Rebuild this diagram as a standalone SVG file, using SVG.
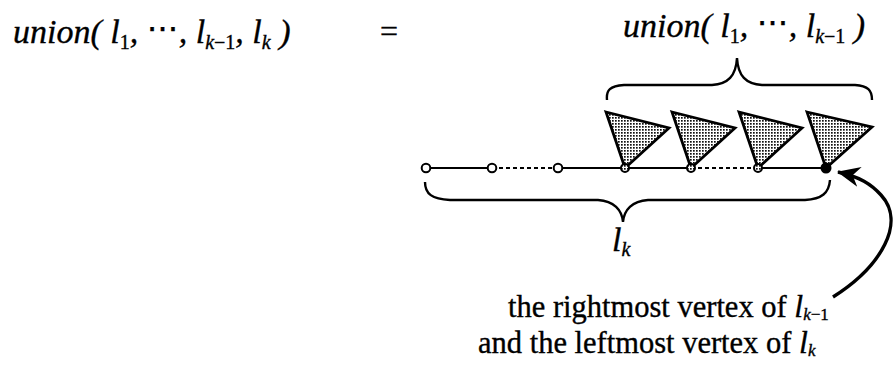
<svg xmlns="http://www.w3.org/2000/svg" width="893" height="369" viewBox="0 0 893 369">
<defs>
<pattern id="dots" width="3" height="3" patternUnits="userSpaceOnUse">
<rect width="3" height="3" fill="#fff"/>
<rect x="0" y="0" width="1.7" height="1.7" fill="#111"/>
</pattern>
<marker id="arr" viewBox="0 0 24 24" refX="22" refY="12" markerWidth="24" markerHeight="24" markerUnits="userSpaceOnUse" orient="auto">
<path d="M0,2 L23,12 L0,22 L7,12 Z" fill="#000"/>
</marker>
</defs>
<style>
text{stroke:#000;stroke-width:0.35}
.m{font-family:"Liberation Serif","Times New Roman",serif;font-style:italic;font-size:34px;fill:#000}
.r{font-family:"Liberation Serif","Times New Roman",serif;font-size:30.5px;fill:#000}
.up{font-style:normal}
.sub{font-size:20px}
.dots{font-family:"DejaVu Sans",sans-serif;font-style:normal;font-size:32px}
.tri{fill:url(#dots);stroke:#000;stroke-width:2.8;stroke-linejoin:miter}
.edge{stroke:#000;stroke-width:2;fill:none}
.dash{stroke-dasharray:4,3}
.v{fill:#fff;stroke:#000;stroke-width:2}
.brace{fill:none;stroke:#000;stroke-width:2.4}
</style>
<g id="title-left">
<text class="m" x="13" y="43">union( l<tspan class="up sub" dy="6">1</tspan><tspan dy="-6">, </tspan><tspan class="dots" dy="-4">⋯</tspan><tspan dy="4">, l</tspan><tspan class="sub" dy="6">k</tspan><tspan class="up sub">−1</tspan><tspan dy="-6">, l</tspan><tspan class="sub" dy="6">k</tspan><tspan dy="-6"> )</tspan></text>
</g>
<g id="equals">
<text class="r" x="380" y="42" style="font-size:32px">=</text>
</g>
<g id="title-right">
<text class="m" x="623" y="37">union( l<tspan class="up sub" dy="6">1</tspan><tspan dy="-6">, </tspan><tspan class="dots" dy="-4">⋯</tspan><tspan dy="4">, l</tspan><tspan class="sub" dy="6">k</tspan><tspan class="up sub">−1</tspan><tspan dy="-6"> )</tspan></text>
</g>
<g id="connectors">
<line class="edge" x1="426" y1="168" x2="492" y2="168"/>
<line class="edge dash" x1="492" y1="168" x2="558" y2="168"/>
<line class="edge" x1="558" y1="168" x2="691" y2="168"/>
<line class="edge dash" x1="691" y1="168" x2="758" y2="168"/>
<line class="edge" x1="758" y1="168" x2="826" y2="168"/>
<path class="brace" d="M833,297 C882,266 906,222 881,195 C871,184 860,177 838,172" style="stroke-width:3.4" marker-end="url(#arr)"/>
</g>
<g id="triangles">
<polygon class="tri" points="606,112 669,128 625,168"/>
<polygon class="tri" points="672,112 735,128 691,168"/>
<polygon class="tri" points="739,112 802,128 758,168"/>
<polygon class="tri" points="807,112 872,127 826,168"/>
</g>
<g id="vertices">
<circle class="v" cx="426" cy="168" r="4.3"/>
<circle class="v" cx="492" cy="168" r="4.3"/>
<circle class="v" cx="558" cy="168" r="4.3"/>
<circle class="v" cx="625" cy="168" r="4" style="fill:url(#dots)"/>
<circle class="v" cx="691" cy="168" r="4" style="fill:url(#dots)"/>
<circle class="v" cx="758" cy="168" r="4" style="fill:url(#dots)"/>
<circle cx="826" cy="168" r="5.5" fill="#000"/>
</g>
<g id="brace-top">
<path class="brace" d="M607,100 C606,90 610,86 624,85 L712,85 C728,84 736,76 737,58 C738,76 746,84 762,85 L855,85 C868,86 872,90 872,100"/>
</g>
<g id="brace-bottom">
<path class="brace" d="M425,182 C425,194 432,199 450,200 L598,200 C614,201 622,210 623,222 C624,210 632,201 648,200 L805,200 C822,199 829,193 830,180"/>
</g>
<g id="label-lk">
<text class="m" x="612" y="251">l<tspan class="sub" dy="5">k</tspan></text>
</g>
<g id="caption">
<text class="r" x="508" y="317">the rightmost vertex of <tspan class="m" style="font-size:32px">l</tspan><tspan class="m" style="font-size:17px" dy="3">k</tspan><tspan style="font-size:17px">−1</tspan></text>
<text class="r" x="478" y="353">and the leftmost vertex of <tspan class="m" style="font-size:32px">l</tspan><tspan class="m" style="font-size:17px" dy="3">k</tspan></text>
</g>
</svg>
